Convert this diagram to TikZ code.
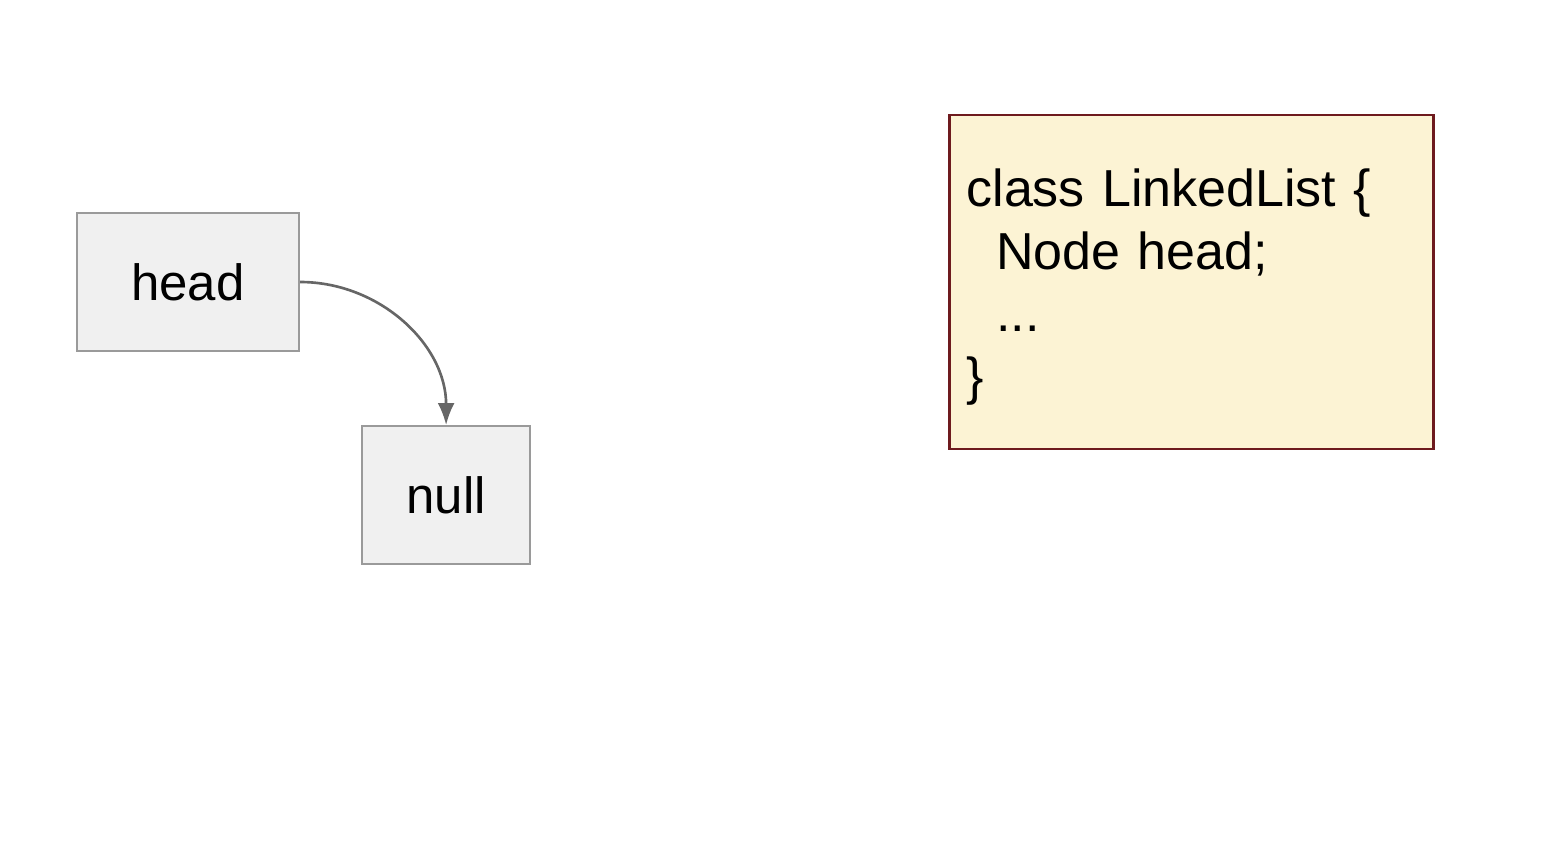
\documentclass[tikz,border=0pt]{standalone}
\usepackage{fontspec}
\setmainfont{Liberation Sans}
\usepackage{xcolor}
\usetikzlibrary{arrows.meta,positioning}
\definecolor{cellfill}{HTML}{F0F0F0}
\definecolor{celldraw}{HTML}{9A9A9A}
\definecolor{linkgray}{HTML}{666666}
\definecolor{notefill}{HTML}{FCF3D4}
\definecolor{notedraw}{HTML}{6E1A1E}
\tikzset{%
	cell/.style     = {draw=celldraw, fill=cellfill, line width=0.6pt, rectangle, minimum height=1.38cm, text centered, font=\fontsize{14.5}{17}\selectfont},
	codebox/.style  = {draw=notedraw, fill=notefill, line width=0.8pt, rectangle, minimum height=3.34cm, text width=4.5cm, inner xsep=0.17cm, align=left, font=\fontsize{14.8}{17.9}\selectfont},
	link/.style     = {draw=linkgray, line width=0.75pt, -{Latex[length=2.2mm,width=1.7mm]}},
}
\newcommand{\indentcode}{\hspace*{0.57em}}

\begin{document}
\begin{tikzpicture}
	\useasboundingbox (0,0) rectangle (15.52,-8.63);
	\node [cell, minimum width=2.22cm] (head) at (1.88,-2.82) {head};
	\node [cell, minimum width=1.68cm, below right=0.73cm and 0.61cm of head] (null) {null};
	\node [codebox, right=6.48cm of head] (code) {\rule{0pt}{13.6pt}class LinkedList \{\\ \indentcode Node head;\\ \indentcode ...\\ \}};
	\draw [link] (head.east) to[out=0, in=90] (null.north);
\end{tikzpicture}
\end{document}
